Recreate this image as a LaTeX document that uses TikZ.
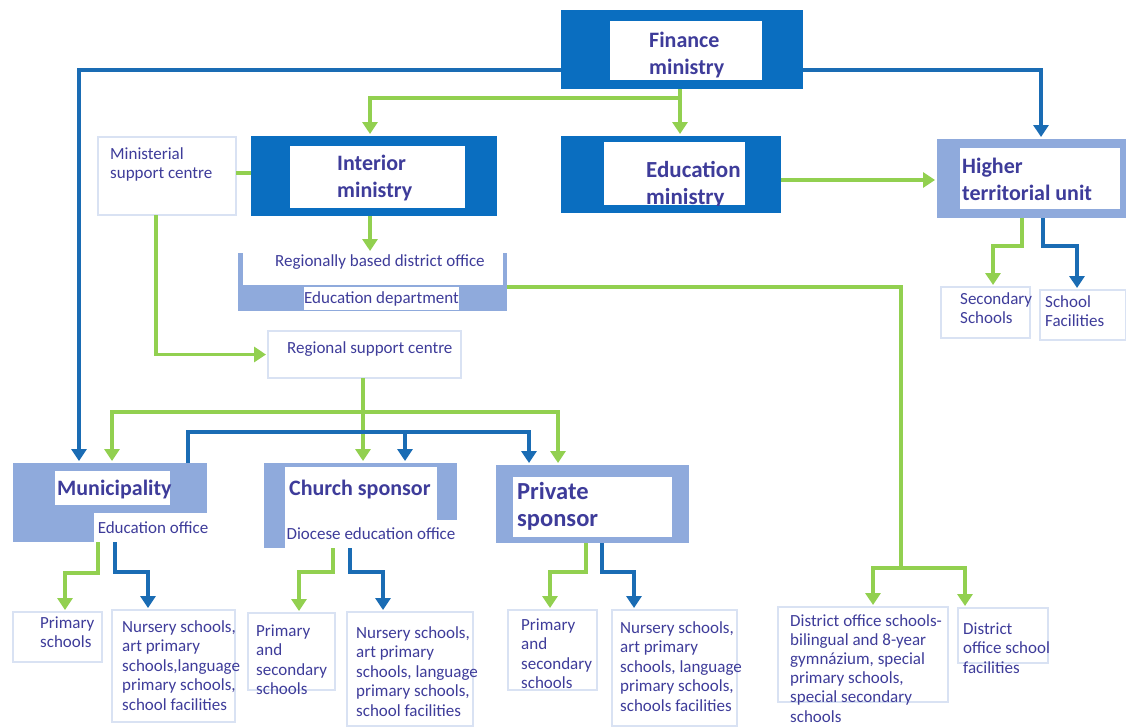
\documentclass[tikz,border=0pt]{standalone}
\usepackage{fontspec}
\setmainfont{Carlito}
\usetikzlibrary{arrows.meta}
\definecolor{dkblue}{HTML}{0A6EC0}
\definecolor{midblue}{HTML}{8FAADC}
\definecolor{lightb}{HTML}{D9E2F3}
\definecolor{grn}{HTML}{92D050}
\definecolor{lnblue}{HTML}{1A6CB4}
\definecolor{txt}{HTML}{3E3C9A}
\newcommand\mytitle{\fontsize{22}{27}\selectfont\bfseries}
\newcommand\mybigtitle{\fontsize{24.5}{27}\selectfont\bfseries}
\newcommand\mylabel{\fontsize{17}{19.5}\selectfont}

\begin{document}
\begin{tikzpicture}[x=1pt,y=-1pt,
  dk/.style={fill=dkblue, draw=none, inner sep=0pt, outer sep=0pt},
  md/.style={fill=midblue, draw=none, inner sep=0pt, outer sep=0pt},
  wh/.style={fill=white, draw=none, inner sep=0pt, outer sep=0pt},
  lt/.style={fill=white, draw=lightb, line width=2.5pt, inner sep=0pt, outer sep=0pt},
  tag/.style={fill=white, draw=none, inner sep=0pt, outer sep=0pt, text=txt, font=\mylabel},
  ttl/.style={anchor=north west, align=left, inner sep=0pt, text=txt, font=\mytitle},
  sml/.style={anchor=north west, align=left, inner sep=0pt, text=txt, font=\mylabel},
  gline/.style={draw=grn, line width=3.5pt},
  bline/.style={draw=lnblue, line width=3.5pt},
  garrow/.style={gline, -{Triangle[width=15pt,length=12pt]}, shorten >=2pt},
  barrow/.style={bline, -{Triangle[width=15pt,length=12pt]}, shorten >=2pt}
]
\useasboundingbox[fill=white] (0,0) rectangle (1126,726);

% ---------- ministries ----------
\node[dk, minimum width=242pt, minimum height=79pt] (fin) at (682,49.5) {};
\node[wh, minimum width=152pt, minimum height=59pt] (finIn) at (686,50.5) {};
\node[ttl] (finT) at (649,28.6) {\strut Finance\\ministry};

\node[dk, minimum width=246pt, minimum height=80pt] (int) at (374,176) {};
\node[wh, minimum width=175pt, minimum height=62pt] (intIn) at (377.5,177) {};
\node[ttl] (intT) at (337,151.6) {\strut Interior\\ministry};

\node[dk, minimum width=220pt, minimum height=77pt] (edu) at (671,174.5) {};
\node[wh, minimum width=141pt, minimum height=63pt] (eduIn) at (674.5,173.5) {};
\begin{scope}
  \clip (eduIn.south west) rectangle (eduIn.north east);
  \node[ttl, font=\fontsize{23}{27}\selectfont\bfseries] (eduT) at (646,158.6) {\strut Education\\ministry};
\end{scope}

\node[lt, minimum width=138pt, minimum height=78pt] (msc) at (167,176) {};
\node[sml] (mscT) at (110,145.4) {\strut Ministerial\\support centre};

\node[md, minimum width=189pt, minimum height=79pt] (hte) at (1031.5,178.5) {};
\node[wh, minimum width=160pt, minimum height=61pt] (hteIn) at (1040,178.5) {};
\node[ttl] (hteT) at (962,154.6) {\strut Higher\\territorial unit};

% ---------- district office ----------
\node[wh, minimum width=269pt, minimum height=58pt] (rdo) at (372.5,282) {};
\fill[midblue] (rdo.south west) rectangle ([yshift=26pt]rdo.south east);
\fill[midblue] (rdo.south west) rectangle ([xshift=5pt]rdo.north west);
\fill[midblue] ([xshift=-4pt]rdo.south east) rectangle (rdo.north east);
\node[sml] (rdoT) at (275,252.4) {\strut Regionally based district office};
\node[tag, minimum width=149pt, minimum height=23pt] (edep) at (381.5,298.5) {Education department};

\node[lt, minimum width=193pt, minimum height=47pt] (rsc) at (364.5,354.5) {};
\node[sml] (rscT) at (287,339.4) {\strut Regional support centre};

% ---------- sponsors ----------
\node[md, minimum width=194pt, minimum height=79pt] (mun) at (110,502.5) {};
\node[wh, minimum width=115pt, minimum height=34pt] (munIn) at (112.5,488) {};
\node[ttl] (munT) at (57,476.6) {\strut Municipality};
\node[tag, minimum width=112pt, minimum height=29pt] (munE) at (151,527.5) {\hspace{4pt}Education office};

\node[md, minimum width=193pt, minimum height=85pt] (chu) at (360.5,505.5) {};
\node[wh, minimum width=152pt, minimum height=53pt] (chuIn) at (361,493.5) {};
\node[ttl] (chuT) at (289,476.6) {\strut Church sponsor};
\node[tag, minimum width=172pt, minimum height=28pt] (chuD) at (371,534) {Diocese education office};

\node[md, minimum width=193pt, minimum height=78pt] (pri) at (592.5,504) {};
\node[wh, minimum width=159pt, minimum height=60pt] (priIn) at (592.5,507) {};
\node[ttl, font=\mybigtitle] (priT) at (517,480.6) {\strut Private\\sponsor};

% ---------- school boxes ----------
\node[lt, minimum width=89pt, minimum height=51pt] (ssB) at (985.5,312.5) {};
\node[sml] (ssT) at (960,290.4) {\strut Secondary\\Schools};
\node[lt, minimum width=86pt, minimum height=50pt] (sfB) at (1083,315) {};
\node[sml] (sfT) at (1045,293.4) {\strut School\\Facilities};

\node[lt, minimum width=89pt, minimum height=50pt] (mpB) at (57.5,637) {};
\node[sml] (mpT) at (40,614.4) {\strut Primary\\schools};
\node[lt, minimum width=123pt, minimum height=112pt] (mnB) at (173.5,666) {};
\node[sml] (mnT) at (122,618.4) {\strut Nursery schools,\\art primary\\schools,language\\primary schools,\\school facilities};

\node[lt, minimum width=87pt, minimum height=77pt] (cpB) at (291.5,651.5) {};
\node[sml] (cpT) at (256,622.4) {\strut Primary\\and\\secondary\\schools};
\node[lt, minimum width=126pt, minimum height=114pt] (cnB) at (410,669) {};
\node[sml] (cnT) at (356,624.4) {\strut Nursery schools,\\art primary\\schools, language\\primary schools,\\school facilities};

\node[lt, minimum width=89pt, minimum height=80pt] (ppB) at (552.5,650) {};
\node[sml] (ppT) at (521,616.4) {\strut Primary\\and\\secondary\\schools};
\node[lt, minimum width=125pt, minimum height=116pt] (pnB) at (674.5,668) {};
\node[sml] (pnT) at (620,619.4) {\strut Nursery schools,\\art primary\\schools, language\\primary schools,\\schools facilities};

\node[lt, minimum width=170pt, minimum height=95pt] (dsB) at (863,654.5) {};
\node[sml, font=\fontsize{17}{19.2}\selectfont] (dsT) at (790,612.4) {\strut District office schools-\\bilingual and 8-year\\gymnázium, special\\primary schools,\\special secondary\\schools};
\node[lt, minimum width=90pt, minimum height=55pt] (dsfB) at (1003,635.5) {};
\node[sml] (dsfT) at (963,620.4) {\strut District\\office school\\facilities};

% ---------- connectors from the finance ministry ----------
\draw[barrow] ([yshift=-20.5pt]fin.west) -| ([xshift=-31pt]mun.north);
\draw[barrow] ([yshift=-20.5pt]fin.east) -| ([xshift=9.5pt]hte.north);
\coordinate (fsplit) at (680,98);
\draw[garrow] ([xshift=-2pt]fin.south) -- ([xshift=9pt]edu.north);
\draw[garrow] (fsplit) -| ([xshift=-4pt]int.north);

% ---------- ministries to lower levels ----------
\draw[gline] ([yshift=3pt]msc.east) -- ([yshift=3pt]int.west);
\draw[garrow] ([xshift=-11pt]msc.south) |- (rsc.west);
\draw[garrow] ([xshift=-4pt]int.south) -- ([xshift=-2.5pt]rdo.north);
\draw[garrow] ([yshift=-5.5pt]edu.east) -- ([yshift=-1.5pt]hte.west);

\draw[garrow] ([xshift=-9.5pt]hte.south) -- ++(0,28) -| ([xshift=7.5pt]ssB.north);
\draw[barrow] ([xshift=11.5pt]hte.south) -- ++(0,28) -| ([xshift=-6pt]sfB.north);

\coordinate (dsplit) at (901,568);
\draw[gline] ([yshift=-5pt]rdo.east) -| (dsplit);
\draw[garrow] (dsplit) -| ([xshift=10pt]dsB.north);
\draw[garrow] (dsplit) -| ([xshift=-38pt]dsfB.north);

% ---------- regional support centre to sponsors ----------
\coordinate (rsplit) at (363,412);
\draw[garrow] ([xshift=-1.5pt]rsc.south) -- ([xshift=2.5pt]chu.north);
\draw[garrow] (rsplit) -| ([xshift=2pt]mun.north);
\draw[garrow] (rsplit) -| ([xshift=-34.5pt]pri.north);

\coordinate (bturn) at (405,432);
\draw[barrow] ([xshift=78pt]mun.north) |- ([xshift=-63.5pt]pri.north |- bturn) -- ([xshift=-63.5pt]pri.north);
\draw[barrow] (bturn) -- ([xshift=44.5pt]chu.north);

% ---------- sponsors to schools ----------
\draw[garrow] ([xshift=-12pt]mun.south) -- ++(0,31) -| ([xshift=7.5pt]mpB.north);
\draw[barrow] ([xshift=5pt]mun.south) -- ++(0,30) -| ([xshift=-25.5pt]mnB.north);
\draw[garrow] ([xshift=-27.5pt]chu.south) -- ++(0,24) -| ([xshift=7.5pt]cpB.north);
\draw[barrow] ([xshift=-10.5pt]chu.south) -- ++(0,24) -| ([xshift=-27pt]cnB.north);
\draw[garrow] ([xshift=-6.5pt]pri.south) -- ++(0,29) -| ([xshift=-2.5pt]ppB.north);
\draw[barrow] ([xshift=9.5pt]pri.south) -- ++(0,29) -| ([xshift=-40.5pt]pnB.north);
\end{tikzpicture}
\end{document}
